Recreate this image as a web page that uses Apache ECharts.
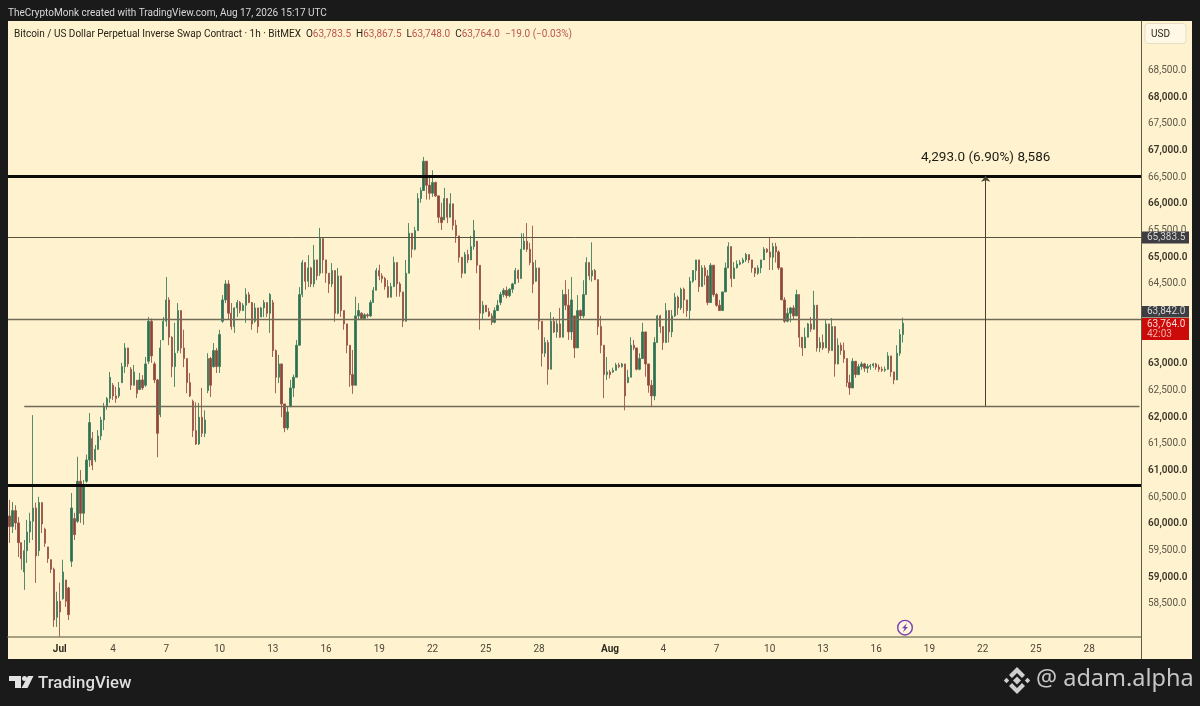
<!DOCTYPE html>
<html><head><meta charset="utf-8">
<style>html,body{margin:0;padding:0;background:#1a1a1a}#c{width:1200px;height:706px}</style>
<script src="https://cdn.jsdelivr.net/npm/echarts@6/dist/echarts.min.js"></script>
</head><body><div id="c"></div>
<script>
// Four-hour candles: [open, close, low, high]
const candlesLateJune = [
[60150,59950,59645,60450],[59950,60250,59830,60410],[60250,60020,59890,60350],[60020,59650,59380,60130],[59650,59350,59140,59650],
[59100,59500,58765,59700],[59500,59850,59270,60076],[59850,60050,59645,60210],[60050,60300,59700,62040],[60300,59400,58895,60400],
[59500,60400,59400,60510],[60400,60000,59830,60400],[59900,59640,59570,59930],[59570,59350,59270,59570],[59330,59150,59080,59330],
[59150,58200,58070,59180],[58250,58550,58070,58730]];
const candlesJulyA = [
[58550,58350,57885,58900],[58600,59100,58580,59330],[58950,58550,58445,58950],[58800,58300,58200,58820],[59300,60300,59195,60580],
[60100,59800,59700,60210],[60050,60800,60020,61260],[60800,60200,60020,61010],[60200,60700,59985,60826],[60800,61200,60770,61300],
[61200,61900,61070,62080],[61600,61100,61010,61725],[61200,61400,61160,61480],[61400,61650,61390,61760],[61650,61950,61570,62010],
[61950,62200,61760,62270],[62200,62350,62140,62380],[62350,62750,62270,62850],[62600,62400,62325,62640],[62400,62350,62270,62570],
[62400,62550,62360,62660],[62650,62950,62640,63020],[62950,63300,62830,63390],[63300,63000,62940,63300],[62900,62600,62510,62940],
[62600,62850,62600,62980],[62690,62450,62360,62700],[62520,62700,62510,62830],[62700,62550,62510,62790],[62600,63000,62570,63130],
[63050,63800,63000,63880],[63800,63150,63020,63850],[63000,62700,62640,63040],[62700,61700,61250,62720],[62050,63300,62000,63450],
[63450,63800,63450,63880],[63800,64200,63700,64630],[64200,63500,63350,64250],[63500,62950,62750,63520],[62950,63200,62570,63770],
[63250,64000,63200,64140],[64000,63300,63200,64000],[63300,63100,62940,63640],[63100,62650,62450,63100],[62650,62400,62380,62830],
[62300,61750,61630,62330],[61750,61500,61480,62280],[61500,62000,61480,62270],[62000,61700,61630,62550],[61700,61950,61630,62130],
[62500,63100,62450,63200],[63100,62600,62380,63130],[62950,63250,62930,63390],[63250,62950,62830,63300],[62950,63550,62830,63640],
[63800,64200,63770,64290],[64200,64500,64140,64570],[64500,63950,63830,64570],[63950,63700,63640,64140],[63700,64050,63580,64060],
[64050,64150,63880,64200],[64150,64000,63950,64180],[64000,64100,63990,64140],[64100,64300,63770,64420],[64300,64150,64140,64350],
[64150,63750,63640,64160],[63800,64050,63770,64140],[64050,63700,63580,64050],[63880,64050,63880,64070],[64050,64150,63880,64200],
[64150,63950,63880,64150],[63950,64300,63580,64330],[64150,63250,63130,64200],[63250,62750,62450,63270],[62750,63000,62640,63170],
[63000,62250,62000,63000],[62250,61800,61720,62250],[61800,62100,61760,62200],[62200,62550,62190,62700],[62550,62750,62380,62800],
[62750,63350,62750,63450],[63350,64300,63350,64440],[64300,64900,64250,64950]];
const candlesJulyB = [
[64900,64550,64390,64900],[64550,64800,64440,65040],[64800,64500,64440,64820],[64500,64950,64440,65230],[64950,64650,64570,64950],
[64700,65350,64650,65550],[65350,64950,64700,65350],[64950,64700,64520,64950],[64700,64500,64330,64700],[64500,64750,64440,64890],
[64750,63950,63790,64750],[63950,64650,63930,64800],[64650,64000,63880,64650],[64000,63750,63640,64000],[63750,63350,63200,63750],
[63350,62800,62570,63350],[62800,62600,62440,63260],[62600,63900,62600,64260],[63900,64000,63820,64140],[63950,63850,63820,63970],
[63850,63920,63820,63950],[63920,63900,63860,63950],[63900,64150,63880,64200],[64150,64380,64150,64440],[64380,64750,64380,64800],
[64750,64650,64570,64860],[64650,64600,64520,64700],[64600,64450,64390,64630],[64450,64250,64240,64570],[64250,64450,64250,64520],
[64450,64900,64440,65010],[64900,64500,64260,64900],[64500,64350,64260,64540],[64350,63800,63690,64350],[63800,64700,63800,64950],
[64700,65450,64700,65640],[65450,65150,64990,65450],[65150,65500,65130,65570],[65500,66100,65500,66200],[66100,66250,66020,66310],
[66250,66800,66250,66880],[66800,66350,66080,66800],[66350,66200,66080,66500],[66200,66400,66130,66630],[66400,66150,66130,66420],
[66150,65750,65640,66150],[65750,65650,65510,66020],[65700,66100,65700,66300],[66100,65750,65640,66100],[65750,66000,65750,66200],
[66000,65600,65510,66000],[65600,65400,65270,65700],[65400,65000,64900,65400],[65000,64700,64610,65000],[64700,65050,64700,65100],
[65050,64950,64890,65140],[64950,65200,64950,65400],[65200,65500,65140,65700],[65300,64850,64700,65300],[64850,63950,63640,64850],
[63950,64100,63820,64180],[64100,63980,63970,64100],[63980,63900,63880,64050],[63900,63780,63730,63950],[63780,64000,63760,64060],
[64000,64100,64000,64200],[64150,64300,64100,64350],[64300,64380,64250,64420],[64380,64280,64230,64450],[64280,64400,64250,64420],
[64400,64500,64330,64520],[64500,64750,64500,64800],[64750,64600,64520,64770],[64600,65150,64600,65450],[65150,65300,65140,65450],
[65300,65150,65100,65640],[65150,64900,64850,65270],[64900,64500,64330,65590],[64550,64800,64540,64950],[64800,63800,63640,64800],
[63800,63200,62950,63800],[63200,63400,63130,63500],[63400,62900,62610,63450],[62900,63800,62900,63970],[63800,63600,63580,63880],
[63600,63750,63490,63820],[63750,63500,63490,64050],[63500,64300,63500,64390],[64300,64100,64010,64570],[64100,63600,63450,64400],
[63600,64200,63450,64630],[63900,63300,63110,63900],[63300,64000,63300,64290],[64000,63900,63830,64020],[63900,64300,63860,64570],
[64300,64900,64300,65000],[64900,64650,64570,64900],[64650,64750,64540,65280],[64750,64580,64570,64780],[64580,63700,63540,64580],
[63700,63350,63200,63900],[63350,62800,62360,63350],[62800,62850,62700,63130]];
const candlesAugust = [
[62850,62800,62730,62890],[62850,62880,62830,62930],[62880,62980,62880,63020],[62980,62950,62920,63020],[62950,63000,62930,63020],
[63000,62400,62130,63000],[62650,62750,62640,62890],[62750,63350,62750,63500],[63350,63300,63260,63450],[63300,62900,62880,63300],
[62900,63100,62880,63200],[63100,63600,63100,63770],[63600,63000,62760,63600],[63000,62600,62460,63000],[62600,62400,62190,62700],
[62400,63400,62320,63500],[63400,63900,63400,63920],[63900,63700,63580,63920],[63700,63400,63260,63700],[63400,64000,63400,64140],
[64000,63600,63400,64000],[63600,63900,63500,64010],[63900,64250,63880,64330],[64250,64050,63920,64280],[64050,64400,64010,64430],
[64400,64200,63950,64430],[64200,64000,63880,64200],[64000,64550,63820,64630],[64550,64750,64520,64760],[64750,64950,64570,64950],
[64950,64450,64350,64950],[64450,64800,64450,64850],[64800,64650,64480,64850],[64650,64150,64100,64760],[64150,64850,64150,64890],
[64850,64300,64260,64850],[64300,64100,64070,64330],[64100,64000,64000,64200],[64000,64350,64000,64350],[64350,64800,64350,64900],
[64800,65200,64800,65280],[65200,64600,64440,65200],[64600,64800,64600,64910],[64800,64870,64790,64940],[64870,64900,64850,64950],
[64900,64950,64880,64990],[64950,65050,64910,65080],[65050,64950,64890,65050],[64950,64800,64710,64950],[64800,64700,64630,64800],
[64700,64800,64670,64850],[64800,64950,64700,64950],[64950,65150,64950,65190],[65150,65100,65080,65170],[65100,65000,64760,65380],
[65000,65200,64760,65270],[65200,65100,64900,65270],[65100,64800,64760,65130],[64800,64200,64200,64800],[64200,63800,63770,64250],
[63800,63950,63780,64050],[63950,64050,63780,64070],[64050,63900,63830,64100],[63900,64300,63900,64390],[64300,63500,63320,64300],
[63500,63300,63150,63500],[63300,63500,63300,63680],[63500,63750,63500,63770],[63750,63650,63600,63880],[63650,64100,63650,64370],
[64100,63300,63230,64100],[63300,63400,63220,63500],[63400,63300,63260,63550],[63300,63750,63300,63820],[63750,63250,63200,63750],
[63250,63700,63250,63860],[63700,63000,62760,63700],[63000,63350,62990,63480],[63350,63250,63170,63400],[63250,63100,63020,63400],
[63100,62650,62570,63100],[62650,62550,62420,62800],[62550,63050,62550,63110],[63050,62800,62740,63050],[62800,62950,62790,63000],
[62950,63000,62890,63040],[63000,62920,62850,63020],[62920,62950,62830,63000],[62950,62970,62890,63000],[62970,63000,62930,63020],
[63000,62940,62890,63020],[62940,62900,62850,62990],[62900,62880,62850,62950],[62880,62900,62850,62950],[62900,63150,62890,63220],
[63150,62850,62760,63150],[62850,62700,62620,62850],[62700,63200,62700,63350],[63200,63550,63150,63650],[63550,63764,63400,63867]];

const priceTicks = [58500,59000,59500,60000,60500,61000,61500,62000,62500,63000,64500,65000,65500,66000,66500,67000,67500,68000,68500];
const dayTickDates = ['Jul 1','Jul 4','Jul 7','Jul 10','Jul 13','Jul 16','Jul 19','Jul 22','Jul 25','Jul 28','Aug 1','Aug 4','Aug 7','Aug 10','Aug 13','Aug 16','Aug 19','Aug 22','Aug 25','Aug 28'];
const dayTickLabels = ['Jul','4','7','10','13','16','19','22','25','28','Aug','4','7','10','13','16','19','22','25','28'];
const heavyLevels = [66525, 60732];
const lightLevels = [65383.5, 63842];
const rangeLow = 62213;
const measureText = '4,293.0 (6.90%) 8,586';

// four-hour slots from Jun 28 04:00 to the right edge of the time axis
const monthNames = ['Jun','Jul','Aug','Sep'];
const categories = [];
for (let i = 0, t = Date.UTC(2026, 5, 28, 4); i < 383; i++, t += 4 * 3600e3) {
  const d = new Date(t);
  categories.push(monthNames[d.getUTCMonth() - 5] + ' ' + d.getUTCDate() + ' ' + String(d.getUTCHours()).padStart(2, '0') + ':00');
}
const candles = candlesLateJune.concat(candlesJulyA, candlesJulyB, candlesAugust);
const lastIdx = categories.length - 1;
const measureIdx = 330;

const FONT = 'Roboto, Inter, sans-serif';
const chart = echarts.init(document.getElementById('c'), null, {renderer: 'canvas'});
const fmtPrice = v => v.toLocaleString('en-US', {minimumFractionDigits: 1, maximumFractionDigits: 1});
const lineAt = (v, width, color) => ({
  yAxis: v, lineStyle: {width, color, type: 'solid'}, label: {show: false}
});
const poly = (points, fill, z) => ({type: 'polygon', z: z || 50, silent: true, shape: {points}, style: {fill}});
const txt = (left, top, text, fill, font, z) => ({type: 'text', z: z || 200, silent: true, left, top, style: {text, fill, font}});
const box = (x, y, width, height, fill) => ({type: 'rect', z: 199, silent: true, shape: {x, y, width, height}, style: {fill}});

chart.setOption({
  animation: false,
  backgroundColor: '#1a1a1a',
  textStyle: {fontFamily: FONT},
  grid: {left: 8, top: 21, width: 1133, height: 616, containLabel: false},
  xAxis: {
    type: 'category', data: categories, boundaryGap: true,
    axisLine: {show: true, onZero: false, lineStyle: {color: '#8b866c', width: 1.5}},
    axisTick: {show: false}, splitLine: {show: false},
    axisLabel: {
      margin: 7, fontSize: 10, color: '#4b4738', fontFamily: FONT, hideOverlap: false,
      interval: (i, v) => dayTickDates.includes(v.replace(' 00:00', '')) && v.endsWith(' 00:00'),
      formatter: v => {
        const k = dayTickDates.indexOf(v.replace(' 00:00', ''));
        const s = k >= 0 ? dayTickLabels[k] : '';
        return s === 'Jul' || s === 'Aug' ? '{b|' + s + '}' : s;
      },
      rich: {b: {fontWeight: 700, fontSize: 10, color: '#2e2b20'}}
    }
  },
  yAxis: {
    type: 'value', position: 'right', min: 57881, max: 69428, scale: true,
    axisLine: {show: true, onZero: false, lineStyle: {color: '#5d5a48', width: 1}},
    axisTick: {show: false}, splitLine: {show: false},
    axisLabel: {
      customValues: priceTicks, inside: false, margin: 7, fontSize: 10, color: '#5c5848', fontFamily: FONT, showMinLabel: true, showMaxLabel: true,
      formatter: v => v % 1000 === 0 ? '{b|' + fmtPrice(v) + '}' : fmtPrice(v),
      rich: {b: {fontWeight: 600, fontSize: 10, color: '#3a3729'}}
    }
  },
  series: [{
    type: 'candlestick', data: candles, barWidth: 1.8, large: false, progressive: 0,
    itemStyle: {color: '#2f6f50', color0: '#8c4537', borderColor: '#3f7f5f', borderColor0: '#9a5547', borderWidth: 0.9},
    markLine: {
      silent: true, animation: false, symbol: 'none', precision: 1,
      data: [
        lineAt(heavyLevels[0], 3, '#0a0a0a'),
        lineAt(heavyLevels[1], 3, '#0a0a0a'),
        {yAxis: lightLevels[0], lineStyle: {width: 1, color: '#55523f', type: 'solid'}, label: {show: false}},
        lineAt(lightLevels[1], 1.3, '#6f6b57'),
        [{coord: [categories[5], rangeLow], lineStyle: {width: 1.3, color: '#6f6b57', type: 'solid'}, label: {show: false}},
         {coord: [categories[lastIdx], rangeLow]}],
        [{coord: [categories[measureIdx], rangeLow], symbol: 'none', lineStyle: {width: 1, color: '#44412f', type: 'solid'},
          label: {show: true, position: 'end', distance: 11, formatter: measureText, fontSize: 13.5, color: '#1c1c14', fontFamily: FONT}},
         {coord: [categories[measureIdx], heavyLevels[0]], symbol: 'arrow', symbolSize: [7, 6]}]
      ]
    }
  }],
  graphic: {elements: [
    {type: 'rect', z: -10, silent: true, shape: {x: 8, y: 21, width: 1184, height: 638}, style: {fill: '#fff2cf'}},
    {type: 'line', z: 40, silent: true, shape: {x1: 1141.5, y1: 637, x2: 1141.5, y2: 659}, style: {stroke: '#5d5a48', lineWidth: 1}},
    txt(8, 8, 'TheCryptoMonk created with TradingView.com, Aug 17, 2026 15:17 UTC', '#d8d8d8', '10px ' + FONT, 60),
    {type: 'text', z: 60, silent: true, left: 14, top: 29, style: {
      text: '{k|Bitcoin / US Dollar Perpetual Inverse Swap Contract · 1h · BitMEX  O}{v|63,783.5}{k|  H}{v|63,867.5}{k|  L}{v|63,748.0}{k|  C}{v|63,764.0}{v|  −19.0 (−0.03%)}',
      rich: {k: {fill: '#26241a', font: '10px ' + FONT}, v: {fill: '#b8574e', font: '10px ' + FONT}}
    }},
    {type: 'rect', z: 60, silent: true, shape: {x: 1145, y: 23.5, width: 41, height: 20, r: 3}, style: {fill: '#fff8e6', stroke: '#e6dfc6', lineWidth: 1}},
    txt(1151, 29, 'USD', '#2a281e', '10px ' + FONT, 61),
    box(1142, 231.5, 47, 12, '#3d3d42'),
    txt(1147, 232.5, '65,383.5', '#d6d6d6', '10px ' + FONT),
    box(1142, 306, 47, 11.5, '#3d3d42'),
    txt(1147, 306.5, '63,842.0', '#d6d6d6', '10px ' + FONT),
    box(1142, 318, 47, 22, '#cc0a0a'),
    txt(1147, 319, '63,764.0', '#f5d6d0', '10px ' + FONT),
    txt(1147, 329.5, '42:03', '#f0b0a8', '10px ' + FONT),
    {type: 'circle', z: 60, silent: true, shape: {cx: 905, cy: 627.7, r: 7.3}, style: {fill: '#fff6df', stroke: '#7b3fae', lineWidth: 1.4}},
    poly([[907,623],[902,628.3],[904.6,628.3],[903,632.2],[908,627],[905.4,627]], '#7b3fae', 61),
    poly([[9,676],[21,676],[21,688],[15,688],[15,681],[9,681]], '#e2e2e2'),
    {type: 'circle', z: 50, silent: true, shape: {cx: 24.5, cy: 678.5, r: 2.5}, style: {fill: '#e2e2e2'}},
    poly([[28,676],[33.5,676],[27.5,688],[21.5,688]], '#e2e2e2'),
    txt(38, 675, 'TradingView', '#dedede', '500 16.8px Roboto, Inter, sans-serif', 60),
    poly([[1017,667],[1025,675],[1022,678],[1017,673],[1012,678],[1009,675]], '#cfcfcf'),
    poly([[1017,694],[1025,686],[1022,683],[1017,688],[1012,683],[1009,686]], '#cfcfcf'),
    poly([[1017,676.6],[1021,680.5],[1017,684.4],[1013,680.5]], '#cfcfcf'),
    poly([[1006.5,677.8],[1009.2,680.5],[1006.5,683.2],[1003.8,680.5]], '#cfcfcf'),
    poly([[1027.5,677.8],[1030.2,680.5],[1027.5,683.2],[1024.8,680.5]], '#cfcfcf'),
    txt(1036, 667, '@ adam.alpha', '#c6c6c6', '23.5px "Noto Sans", "Open Sans", sans-serif', 60)
  ]}
});
</script></body></html>
